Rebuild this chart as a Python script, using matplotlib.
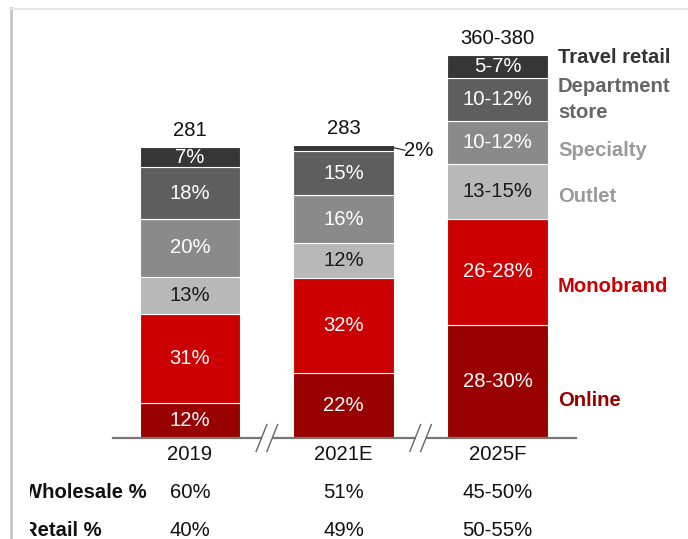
import numpy as np
import matplotlib
matplotlib.use("Agg")
import matplotlib.pyplot as plt
from matplotlib.lines import Line2D

plt.rcParams["font.family"] = ["Liberation Sans", "DejaVu Sans"]

years = ["2019", "2021E", "2025F"]
totals = [281, 283, 370]
total_labels = ["281", "283", "360-380"]

channels = ["Online", "Monobrand", "Outlet", "Specialty", "Department\nstore", "Travel retail"]
shares = {
    "2019": [12, 31, 13, 20, 18, 7],
    "2021E": [22, 32, 12, 16, 15, 2],
    "2025F": [29, 27, 14, 11, 11, 6],
}
share_labels = {
    "2019": ["12%", "31%", "13%", "20%", "18%", "7%"],
    "2021E": ["22%", "32%", "12%", "16%", "15%", ""],
    "2025F": ["28-30%", "26-28%", "13-15%", "10-12%", "10-12%", "5-7%"],
}
wholesale = ["60%", "51%", "45-50%"]
retail = ["40%", "49%", "50-55%"]

colors = ["#990000", "#CC0000", "#B8B8B8", "#8A8A8A", "#5E5E5E", "#363636"]
text_colors = ["white", "white", "#1a1a1a", "white", "white", "white"]
side_colors = ["#990000", "#CC0000", "#9A9A9A", "#9A9A9A", "#666666", "#333333"]
side_y = [36.7, 146, 233, 278, 327, 368]

W, H = 688, 539
fig = plt.figure(figsize=(W / 100, H / 100), dpi=100)

# pixel mapping: bar centers at 190, 343.5, 497.5 px, baseline at 438 px
px_x = 153.75
px_y = 1.035
ax_left, ax_top = 30, 10
ax = fig.add_axes([ax_left / W, 0, (W - ax_left) / W, (H - ax_top) / H])
ax.set_xlim((ax_left - 190) / px_x, (W - 190) / px_x)
ax.set_ylim(-(H - 438) / px_y, (438 - ax_top) / px_y)
ax.axis("off")

x = np.arange(len(years))
bw = 101 / px_x
fs = 14.6

for i, yr in enumerate(years):
    pcts = np.array(shares[yr], dtype=float)
    heights = totals[i] * pcts / pcts.sum()
    bottom = 0
    for j, h in enumerate(heights):
        ax.bar(x[i], h, bottom=bottom, width=bw, color=colors[j],
               edgecolor="white", linewidth=0.8, zorder=2)
        lab = share_labels[yr][j]
        if lab:
            ax.text(x[i], bottom + h / 2, lab, ha="center", va="center",
                    fontsize=fs, color=text_colors[j], zorder=3)
        bottom += h
    ax.text(x[i], totals[i] + 7, total_labels[i], ha="center", va="bottom",
            fontsize=fs, color="#111111")
    ax.text(x[i], -16.4, yr, ha="center", va="center", fontsize=fs, color="#111111")
    ax.text(x[i], -53.1, wholesale[i], ha="center", va="center", fontsize=fs, color="#111111")
    ax.text(x[i], -88.9, retail[i], ha="center", va="center", fontsize=fs, color="#111111")

# 2% callout for 2021E travel retail
top21 = totals[1]
ax.plot([x[1] + bw / 2 - 0.02, x[1] + bw / 2 + 0.07], [top21 - 2, top21 - 5],
        color="#333333", linewidth=0.9, zorder=3)
ax.text(x[1] + bw / 2 + 0.065, top21 - 5, "2%", ha="left", va="center",
        fontsize=fs, color="#111111")

# side labels
for j, name in enumerate(channels):
    ax.text(x[2] + bw / 2 + 10 / px_x, side_y[j], name, ha="left", va="center",
            fontsize=fs, fontweight="bold", color=side_colors[j], linespacing=1.5)

# row labels, clipped at the left like the source
for yy, name in [(-53.1, "Wholesale %"), (-88.9, "Retail %")]:
    ax.text((23 - 190) / px_x, yy, name, ha="left", va="center", fontsize=fs,
            fontweight="bold", color="#111111", clip_on=True)

# baseline with breaks
x0, x1 = (113 - 190) / px_x, (576 - 190) / px_x
ax.plot([x0, x1], [0, 0], color="#777777", linewidth=1.6, zorder=4)
for xb in [0.5, 1.5]:
    for dx in [-0.035, 0.035]:
        ax.plot([xb + dx - 0.035, xb + dx + 0.035], [-13, 13], color="#666666",
                linewidth=1.0, zorder=5)
    ax.fill_between([xb - 0.03, xb + 0.03], -1, 1, color="white", zorder=4.5)

# frame around the picture
fig.add_artist(Line2D([10.5 / W, 10.5 / W], [0, 1 - 8 / H], color="#C4C4C4",
                      linewidth=2, transform=fig.transFigure))
fig.add_artist(Line2D([10 / W, 1], [1 - 8.5 / H, 1 - 8.5 / H], color="#E6E6E6",
                      linewidth=1.5, transform=fig.transFigure))

fig.savefig("out.png", dpi=100)
